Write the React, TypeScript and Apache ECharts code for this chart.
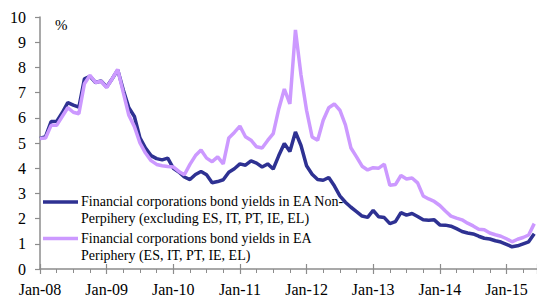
import React, { useEffect, useRef } from "react";
import * as echarts from "echarts";

// Monthly values, Jan-2008 .. Jun-2015 (%)
const nonPeripheryYields = [
  5.18, 5.25, 5.85, 5.86, 6.2, 6.6, 6.5, 6.42, 7.55, 7.65, 7.4, 7.46,
  7.22, 7.55, 7.9, 7.1, 6.4, 6.05, 5.2, 4.8, 4.5, 4.38, 4.33, 4.4,
  4.0, 3.85, 3.65, 3.55, 3.75, 3.87, 3.74, 3.42, 3.47, 3.54, 3.84, 3.98,
  4.17, 4.12, 4.29, 4.2, 4.05, 4.17, 3.97, 4.5, 4.98, 4.66, 5.44, 4.9,
  4.1, 3.76, 3.55, 3.52, 3.63, 3.3, 2.9, 2.65, 2.45, 2.28, 2.1, 2.05,
  2.33, 2.07, 2.04, 1.8, 1.88, 2.24, 2.14, 2.2, 2.08, 1.95, 1.93, 1.95,
  1.75, 1.74, 1.7, 1.6, 1.49, 1.43, 1.39, 1.3, 1.22, 1.19, 1.12, 1.07,
  0.98, 0.88, 0.92, 1.0, 1.08, 1.4,
];

const peripheryYields = [
  5.18, 5.2, 5.7, 5.7, 6.05, 6.4, 6.22, 6.16, 7.35, 7.69, 7.4, 7.45,
  7.2, 7.55, 7.92, 7.0, 6.1, 5.65, 5.0, 4.6, 4.3, 4.15, 4.1, 4.07,
  4.05, 3.87, 3.74, 4.15, 4.5, 4.72, 4.4, 4.26, 4.45, 4.17, 5.2, 5.42,
  5.67, 5.25, 5.11, 4.85, 4.8, 5.1, 5.37, 6.35, 7.14, 6.55, 9.49, 7.7,
  6.3, 5.24, 5.11, 5.9, 6.4, 6.55, 6.3, 5.72, 4.8, 4.45, 4.08, 3.93,
  4.02, 4.0, 4.16, 3.32, 3.35, 3.71, 3.57, 3.61, 3.42, 2.9, 2.78, 2.68,
  2.52, 2.3, 2.1, 2.02, 1.95, 1.82, 1.71, 1.58, 1.56, 1.43, 1.36, 1.3,
  1.2, 1.08, 1.18, 1.25, 1.35, 1.8,
];

const xTickLabels = ["Jan-08", "Jan-09", "Jan-10", "Jan-11", "Jan-12", "Jan-13", "Jan-14", "Jan-15"];

const seriesNames = [
  "Financial corporations bond yields in EA Non-\nPerpihery (excluding ES, IT, PT, IE, EL)",
  "Financial corporations bond yields in EA\nPeriphery (ES, IT, PT, IE, EL)",
];

const DARK = "#2E3192";
const LIGHT = "#CC99FF";
const FONT = "Liberation Serif, Times New Roman, serif";
const AXIS_GRAY = "#8c8c8c";

export default function App() {
  const ref = useRef<HTMLDivElement>(null);

  useEffect(() => {
    if (!ref.current) return;
    const chart = echarts.init(ref.current, undefined, { renderer: "svg" });
    const toPairs = (arr: number[]) => arr.map((v, i) => [i, v]);

    chart.setOption({
      animation: false,
      backgroundColor: "#ffffff",
      textStyle: { fontFamily: FONT },
      grid: { left: 40, right: 0, top: 17, bottom: 24.5, containLabel: false },
      xAxis: [
        {
          type: "value",
          min: 0,
          max: 89.5,
          interval: 12,
          axisLine: { show: true, lineStyle: { color: AXIS_GRAY, width: 1.5 } },
          axisTick: { show: true, length: 5, lineStyle: { color: AXIS_GRAY, width: 1.2 } },
          minorTick: { show: true, splitNumber: 4, length: 4, lineStyle: { color: AXIS_GRAY, width: 1 } },
          splitLine: { show: false },
          axisLabel: {
            margin: 12,
            fontFamily: FONT,
            fontSize: 16,
            color: "#000",
            showMaxLabel: false,
            formatter: (v: number) => xTickLabels[Math.round(v / 12)] ?? "",
          },
        },
        {
          type: "value",
          min: 0,
          max: 89.5,
          interval: 12,
          position: "bottom",
          axisLine: { show: false },
          axisTick: { show: true, inside: true, length: 5, lineStyle: { color: AXIS_GRAY, width: 1.2 } },
          axisLabel: { show: false },
          splitLine: { show: false },
        },
      ],
      yAxis: {
        type: "value",
        min: 0,
        max: 10,
        interval: 1,
        axisLine: { show: true, lineStyle: { color: AXIS_GRAY, width: 1.5 } },
        axisTick: { show: true, length: 5, lineStyle: { color: AXIS_GRAY, width: 1.2 } },
        splitLine: { show: false },
        axisLabel: {
          margin: 14,
          fontFamily: FONT,
          fontSize: 16,
          color: "#000",
        },
      },
      series: [
        {
          name: seriesNames[0],
          type: "line",
          xAxisIndex: 0,
          data: toPairs(nonPeripheryYields),
          showSymbol: false,
          lineStyle: { color: DARK, width: 3.5 },
          itemStyle: { color: DARK },
          z: 2,
        },
        {
          name: seriesNames[1],
          type: "line",
          xAxisIndex: 0,
          data: toPairs(peripheryYields),
          showSymbol: false,
          lineStyle: { color: LIGHT, width: 3.5 },
          itemStyle: { color: LIGHT },
          z: 3,
        },
      ],
      graphic: [
        {
          type: "text",
          left: 55,
          top: 17,
          style: { text: "%", fontFamily: FONT, fontSize: 15, fill: "#000" },
        },
        {
          type: "line",
          shape: { x1: 43, y1: 202, x2: 78, y2: 202 },
          style: { stroke: DARK, lineWidth: 3.5 },
          z: 10,
        },
        {
          type: "text",
          x: 81,
          y: 193,
          style: {
            text: seriesNames[0],
            fontFamily: FONT,
            fontSize: 14,
            lineHeight: 16.7,
            fill: "#000",
            verticalAlign: "top",
          },
          z: 10,
        },
        {
          type: "line",
          shape: { x1: 43, y1: 238.5, x2: 78, y2: 238.5 },
          style: { stroke: LIGHT, lineWidth: 3.5 },
          z: 10,
        },
        {
          type: "text",
          x: 81,
          y: 230,
          style: {
            text: seriesNames[1],
            fontFamily: FONT,
            fontSize: 14,
            lineHeight: 16.7,
            fill: "#000",
            verticalAlign: "top",
          },
          z: 10,
        },
      ],
    });

    return () => chart.dispose();
  }, []);

  return (
    <div
      ref={ref}
      style={{ position: "fixed", left: 0, top: 0, width: 537, height: 297, background: "#fff" }}
    />
  );
}
